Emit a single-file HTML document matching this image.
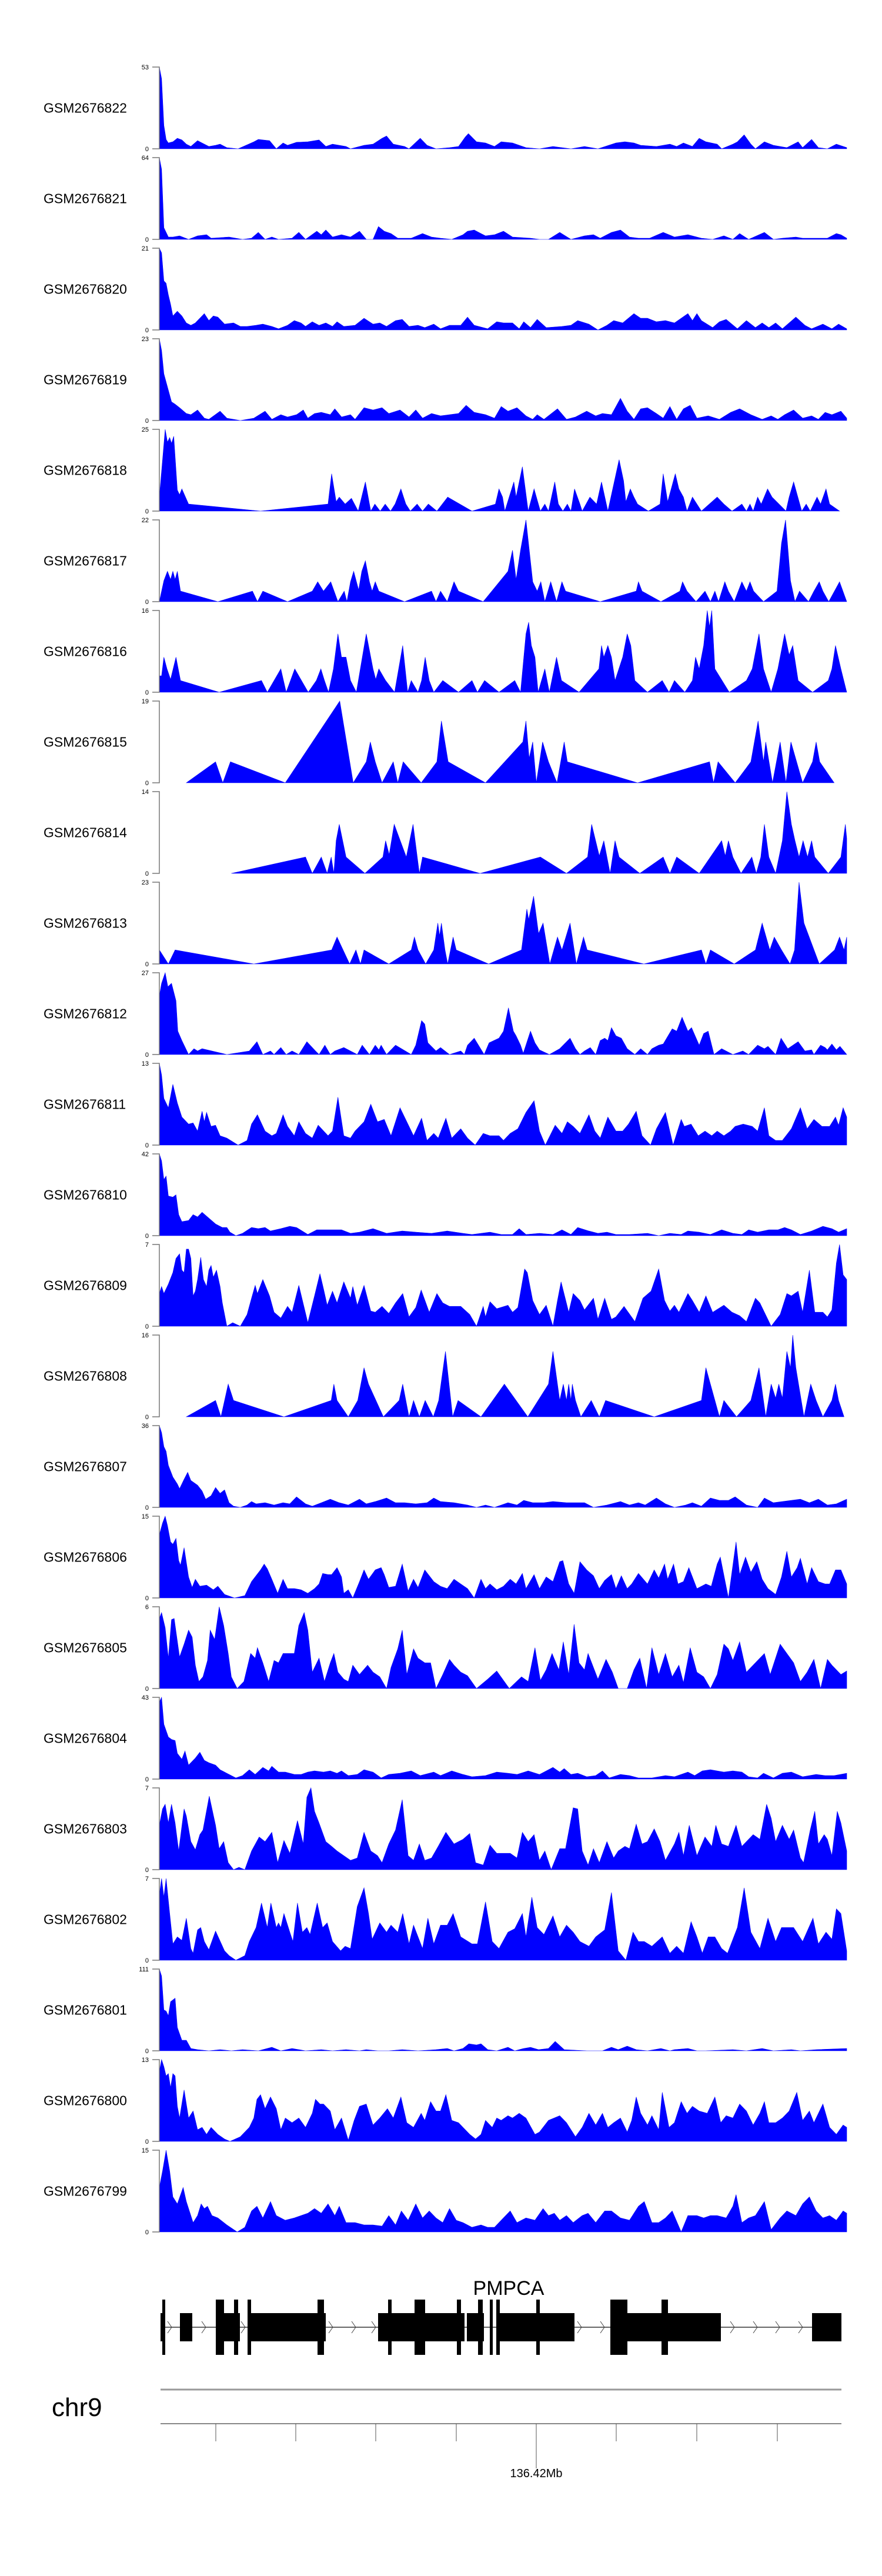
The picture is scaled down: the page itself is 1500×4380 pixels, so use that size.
<!DOCTYPE html>
<html><head><meta charset="utf-8"><style>
html,body{margin:0;padding:0;background:#fff}
svg{display:block}
</style></head><body>
<svg id="fig" width="1500" height="4380" viewBox="0 0 1500 4380" xmlns="http://www.w3.org/2000/svg" font-family="Liberation Sans, Arial, sans-serif">
<g id="tracks"></g>
<g id="gene"></g>
<g id="axis">
<line x1="273" y1="4063" x2="1431" y2="4063" stroke="#999" stroke-width="3"/>
<line x1="273" y1="4121" x2="1431" y2="4121" stroke="#888" stroke-width="2"/>
<text x="88" y="4108" font-size="44">chr9</text>
<text x="912" y="4212" font-size="20" text-anchor="middle">136.42Mb</text>
</g>
</svg>
<script>
const NS='http://www.w3.org/2000/svg';
const trackNames=['GSM2676822','GSM2676821','GSM2676820','GSM2676819','GSM2676818','GSM2676817','GSM2676816','GSM2676815','GSM2676814','GSM2676813','GSM2676812','GSM2676811','GSM2676810','GSM2676809','GSM2676808','GSM2676807','GSM2676806','GSM2676805','GSM2676804','GSM2676803','GSM2676802','GSM2676801','GSM2676800','GSM2676799'];
const trackMax=[53,64,21,23,25,22,16,19,14,23,27,13,42,7,16,36,15,6,43,7,7,111,13,15];
const posDomain=[15,1543];
const valDomain=[0,350];
const axisTicks=[367,503,639,776,912,1048,1185,1322];
const t0=[15,350,20,300,25,100,30,40,35,25,45,30,55,45,65,38,75,20,85,10,100,35,110,25,125,10,140,15,150,20,165,5,190,0,225,30,235,40,260,35,275,0,290,25,300,15,320,28,345,30,370,38,385,10,400,20,430,10,440,0,470,15,490,20,510,45,520,55,535,20,560,10,570,0,595,45,610,15,630,0,660,5,680,10,695,50,702,65,720,30,740,25,760,10,775,30,800,25,830,5,860,0,890,10,930,0,960,10,990,0,1030,25,1050,30,1070,25,1085,15,1120,10,1150,20,1165,10,1180,25,1200,10,1215,45,1230,30,1255,20,1265,0,1290,20,1300,30,1315,60,1330,20,1340,0,1360,30,1380,15,1410,5,1435,30,1445,5,1465,40,1480,5,1500,0,1520,20,1543,5];
const t1=[15,350,20,300,25,50,35,10,45,10,60,15,80,0,100,15,120,20,130,5,170,10,200,0,220,5,235,30,250,0,265,10,280,0,310,5,325,30,340,0,365,35,375,20,385,40,400,10,420,20,440,10,460,35,475,0,490,0,502,55,515,35,530,25,545,5,575,5,600,25,620,10,640,5,665,0,690,20,700,35,715,40,730,25,740,15,760,20,780,35,800,10,840,5,860,0,880,0,905,30,930,0,960,15,980,20,995,5,1020,30,1040,40,1060,10,1080,5,1105,5,1135,30,1160,10,1190,20,1220,5,1245,0,1270,15,1290,0,1305,25,1325,0,1360,30,1380,0,1400,5,1430,10,1445,5,1480,5,1500,5,1520,25,1530,20,1543,5];
const t2=[15,350,20,330,25,210,30,200,35,150,40,110,45,60,55,80,65,60,75,30,85,20,95,30,115,70,125,40,135,60,145,55,160,25,180,30,195,15,210,15,230,20,245,25,265,15,280,5,300,20,315,40,330,30,340,15,355,35,370,20,385,30,400,15,410,35,425,15,450,20,470,50,490,25,505,30,520,15,540,40,555,45,570,15,590,20,605,10,625,25,640,5,660,20,685,20,700,55,715,20,745,5,765,35,780,30,800,30,815,5,825,35,840,10,855,45,875,10,910,15,930,20,945,40,970,25,990,0,1010,20,1025,40,1045,30,1070,70,1085,50,1100,50,1120,35,1140,40,1160,30,1190,70,1200,40,1210,70,1220,40,1245,10,1260,35,1275,45,1300,5,1320,40,1340,10,1355,30,1370,10,1385,30,1400,5,1430,55,1450,20,1465,5,1490,25,1510,5,1525,25,1543,5];
const t3=[15,350,20,300,25,200,35,130,42,80,50,70,60,55,75,30,85,25,100,45,115,10,125,5,150,40,165,10,195,0,225,10,250,40,265,5,285,25,300,15,320,25,335,45,345,10,360,30,375,35,395,25,405,50,420,15,440,25,450,5,470,55,490,45,510,55,525,30,550,45,570,15,585,45,600,10,620,30,640,20,660,25,680,30,697,65,715,35,740,25,760,10,775,60,790,40,810,55,830,20,845,5,855,25,870,5,900,50,920,5,940,15,965,40,985,20,1000,30,1020,25,1040,95,1055,40,1070,5,1085,50,1100,55,1120,30,1135,10,1150,60,1165,5,1180,50,1195,65,1210,10,1235,20,1260,5,1285,35,1305,50,1330,25,1355,5,1375,20,1390,5,1405,25,1425,45,1445,10,1465,20,1480,5,1495,35,1510,25,1530,40,1543,10];
const t4=[15,60,20,170,28,350,33,295,38,315,42,290,47,320,55,90,60,70,65,95,80,30,240,0,390,30,398,160,408,40,415,60,428,30,442,55,457,0,473,125,485,0,494,30,506,0,517,30,529,0,539,30,552,95,563,30,573,0,588,30,600,0,613,30,632,0,656,60,710,0,762,30,770,95,778,60,783,0,803,125,808,60,822,190,835,0,848,95,862,0,872,30,880,0,894,125,902,30,912,0,922,30,930,0,938,95,950,30,955,0,972,60,987,30,998,125,1012,0,1037,220,1047,130,1052,40,1062,95,1070,60,1078,30,1102,0,1128,30,1135,160,1145,40,1162,160,1170,95,1180,60,1188,0,1200,60,1220,0,1255,60,1270,30,1288,0,1310,30,1320,0,1328,30,1335,0,1345,60,1353,30,1367,95,1377,60,1408,0,1415,60,1425,125,1443,0,1453,30,1462,0,1477,60,1485,30,1497,95,1505,30,1527,0];
const t5=[15,0,25,90,33,130,40,95,45,130,50,95,55,130,62,45,145,0,222,45,233,0,245,45,300,0,355,45,367,85,380,45,396,85,412,0,426,45,432,0,440,85,447,130,458,50,465,130,473,175,482,85,488,45,495,85,503,45,560,0,620,45,630,0,640,45,655,0,670,85,680,45,735,0,790,130,800,220,808,95,818,220,830,350,845,85,855,45,863,85,872,0,885,85,898,0,910,85,918,45,995,0,1075,45,1080,85,1088,45,1130,0,1172,45,1178,85,1188,45,1208,0,1228,45,1240,0,1250,45,1258,0,1272,85,1280,45,1293,0,1310,85,1320,45,1328,85,1336,45,1358,0,1388,45,1398,250,1407,350,1418,90,1428,0,1438,45,1458,0,1470,45,1482,85,1490,45,1503,0,1527,85,1543,0];
const t6=[15,70,20,70,25,150,32,100,40,55,52,150,62,50,148,0,242,50,255,0,285,100,297,0,316,100,346,0,364,50,374,100,382,50,391,0,402,100,412,250,420,150,430,150,440,50,453,0,475,250,490,100,496,55,503,100,518,50,538,0,556,200,567,0,575,50,590,0,598,50,606,150,615,50,625,0,645,50,680,0,710,50,722,0,738,50,770,0,805,50,818,0,830,250,836,300,842,200,850,150,857,0,872,100,882,0,898,150,909,50,948,0,992,100,998,200,1003,150,1012,200,1020,150,1028,50,1045,150,1055,250,1063,200,1072,50,1100,0,1133,50,1148,0,1160,50,1183,0,1200,50,1207,150,1215,100,1225,200,1233,350,1238,280,1243,350,1250,100,1282,0,1320,50,1333,100,1348,250,1358,100,1375,0,1390,100,1405,250,1415,160,1423,200,1435,50,1467,0,1502,50,1510,100,1518,200,1530,100,1543,0];
const t7=[75,0,140,90,156,0,173,90,295,0,416,350,446,0,475,90,484,175,495,90,510,0,535,90,545,0,557,90,597,0,632,90,642,265,657,90,740,0,823,175,830,265,837,105,845,175,853,0,867,175,880,90,899,0,915,175,922,90,1078,0,1238,90,1247,0,1257,90,1295,0,1330,90,1346,265,1358,90,1363,175,1378,0,1395,175,1408,0,1419,175,1445,0,1467,90,1475,175,1483,90,1515,0];
const t8=[175,0,340,70,355,0,375,70,388,0,397,70,403,0,408,140,415,210,430,70,472,0,512,70,518,140,526,80,537,210,564,70,579,210,593,0,600,70,728,0,862,70,920,0,967,70,976,210,993,75,1003,140,1017,0,1028,140,1037,70,1083,0,1135,70,1150,0,1165,70,1215,0,1265,140,1273,75,1280,140,1290,70,1308,0,1332,70,1342,0,1352,70,1360,210,1370,70,1385,0,1400,140,1410,350,1420,210,1428,140,1437,70,1446,140,1456,70,1465,140,1472,70,1502,0,1530,70,1540,210,1543,150];
const t9=[15,60,35,0,50,60,225,0,398,60,410,115,438,0,452,60,462,0,470,60,525,0,575,60,582,115,590,60,607,0,625,60,634,175,638,120,642,175,650,60,656,0,668,115,675,60,747,0,820,60,832,235,836,190,847,290,858,130,868,175,883,0,900,115,910,60,928,175,942,0,958,115,966,60,1092,0,1220,60,1230,0,1240,60,1293,0,1340,60,1355,175,1372,60,1382,115,1398,60,1417,0,1427,60,1437,350,1448,175,1482,0,1516,60,1527,115,1537,60,1543,115];
const t10=[15,250,20,305,28,350,34,290,42,305,52,230,56,100,65,60,80,0,92,25,100,15,110,25,165,0,215,15,232,55,245,0,262,15,270,0,285,30,297,0,310,15,325,0,343,55,362,15,370,0,383,40,395,0,405,15,425,30,455,0,466,40,482,0,495,40,503,20,508,40,520,0,540,40,575,0,585,40,598,145,605,130,612,50,630,15,640,30,660,0,685,15,693,0,700,40,715,70,737,0,748,50,770,70,780,100,791,200,802,100,808,80,818,40,824,5,840,100,850,50,860,20,882,0,905,25,928,70,940,25,950,0,960,15,973,30,985,0,995,60,1005,70,1012,60,1020,115,1030,80,1042,70,1055,25,1072,0,1085,25,1100,0,1110,25,1125,40,1135,45,1155,110,1165,100,1177,160,1190,100,1198,115,1215,40,1225,90,1235,100,1248,0,1265,25,1290,0,1312,15,1325,0,1345,40,1360,25,1368,35,1385,0,1397,70,1412,25,1435,55,1450,15,1465,20,1470,0,1485,40,1495,30,1500,20,1510,45,1520,20,1528,35,1543,0];
const t11=[15,350,20,300,25,200,35,160,45,260,55,180,65,120,80,90,90,95,100,60,110,145,115,100,120,140,130,80,140,85,150,40,165,30,190,0,210,20,220,90,233,130,250,60,265,40,275,50,290,130,300,80,315,40,325,100,340,50,355,30,368,85,390,40,400,60,412,205,425,40,440,30,450,60,470,100,485,175,500,100,515,110,530,40,550,160,565,100,580,40,598,115,610,20,625,50,635,30,652,115,665,30,685,70,700,30,717,0,735,50,750,40,770,40,780,20,795,50,812,70,830,140,848,190,860,60,873,0,895,85,910,50,922,100,935,80,950,50,970,130,983,60,995,30,1012,120,1030,60,1045,60,1058,90,1075,145,1088,40,1107,0,1120,70,1140,140,1157,0,1175,110,1182,80,1197,90,1213,40,1228,60,1243,40,1255,60,1270,40,1285,60,1295,80,1313,90,1333,80,1345,60,1360,160,1370,40,1385,20,1400,20,1420,70,1440,160,1455,70,1470,110,1488,80,1505,80,1518,120,1525,85,1535,160,1543,120];
const t12=[15,350,20,320,25,240,30,255,35,170,45,165,52,175,58,90,65,60,80,65,90,90,100,80,110,100,125,75,140,50,155,35,165,35,172,15,185,0,200,10,220,35,235,30,250,35,262,20,285,30,305,40,320,35,345,5,365,25,390,25,420,25,440,10,460,15,490,30,520,10,555,20,585,15,620,10,655,20,690,10,710,5,750,15,775,5,800,5,815,30,830,5,860,10,890,5,910,25,930,5,945,35,970,20,990,10,1010,15,1030,5,1060,5,1100,10,1125,0,1150,10,1175,5,1190,20,1215,15,1240,5,1265,25,1290,10,1310,5,1325,25,1345,15,1370,25,1390,25,1405,35,1420,25,1440,5,1465,20,1490,40,1510,30,1525,15,1543,30];
const t13=[15,140,20,170,25,140,35,180,45,230,52,290,60,310,65,240,70,230,75,330,80,330,85,290,90,130,95,150,100,200,107,295,113,200,120,170,125,240,130,260,135,210,142,240,150,170,155,100,165,0,178,15,195,0,210,50,220,120,228,175,233,140,245,200,260,130,270,60,285,35,300,85,310,60,325,175,345,15,360,130,372,225,380,160,388,90,400,150,410,100,425,190,440,120,445,170,455,90,470,175,485,65,495,60,510,85,525,55,540,100,556,140,570,40,585,80,597,155,615,60,632,140,645,100,660,85,685,85,705,50,720,0,735,85,740,40,750,105,765,75,790,90,800,60,812,80,827,245,833,230,845,110,860,50,875,90,890,0,900,110,908,190,925,60,935,140,950,110,960,70,980,120,990,30,1005,120,1020,30,1030,40,1048,85,1072,20,1090,120,1108,150,1125,245,1138,110,1150,65,1160,90,1170,60,1190,140,1200,110,1215,60,1230,130,1245,60,1270,90,1288,60,1305,45,1320,20,1340,120,1350,100,1360,60,1375,0,1395,50,1410,140,1420,130,1435,150,1445,60,1460,240,1472,60,1490,60,1500,40,1510,70,1520,270,1527,350,1535,220,1543,200];
const t14=[75,0,140,70,152,0,168,140,180,70,292,0,397,70,403,140,410,70,435,0,456,70,470,210,480,140,513,0,548,70,556,140,570,0,580,70,593,0,606,70,624,0,636,70,651,280,667,0,679,70,730,0,782,140,834,0,880,140,890,280,905,70,913,140,920,70,925,140,930,70,933,140,940,70,952,0,975,70,993,0,1007,70,1115,0,1220,70,1230,210,1240,140,1260,0,1270,70,1298,0,1330,70,1348,210,1363,0,1375,140,1385,80,1392,140,1400,80,1410,280,1418,210,1423,350,1430,210,1448,0,1463,140,1475,70,1490,0,1510,70,1518,140,1525,70,1537,0];
const t15=[15,350,20,320,25,260,30,240,35,180,45,130,55,100,60,80,70,120,78,150,85,115,100,95,110,70,118,35,130,50,140,85,150,60,160,75,170,20,180,5,195,0,210,10,220,25,230,15,250,20,270,10,290,20,305,15,320,45,340,15,355,5,375,20,395,35,415,20,435,10,460,35,475,15,495,25,520,40,540,20,560,20,585,15,610,20,625,40,640,25,670,20,700,10,720,0,740,10,760,0,790,20,810,10,825,30,845,20,870,20,890,25,920,20,960,20,980,0,1010,10,1040,25,1060,10,1080,20,1095,10,1120,40,1140,15,1160,0,1185,10,1200,20,1220,5,1240,40,1260,30,1280,30,1295,45,1320,10,1345,0,1360,40,1380,20,1400,25,1420,30,1440,35,1460,20,1480,35,1500,10,1520,15,1543,35];
const t16=[15,270,22,320,28,350,33,310,40,240,45,230,52,255,58,160,62,140,70,215,80,90,88,45,95,80,105,50,120,55,135,35,145,50,160,15,182,0,205,10,220,70,240,120,248,145,255,125,265,80,278,20,290,80,300,40,315,40,330,35,345,20,360,40,370,60,378,105,390,100,398,100,410,130,420,90,425,20,435,35,445,0,460,70,470,120,480,80,495,120,508,130,515,100,525,45,540,50,555,145,568,30,580,80,590,45,605,120,625,70,640,50,655,40,670,80,685,60,700,40,715,0,730,80,740,40,750,60,765,35,780,50,795,80,808,60,822,105,830,40,848,100,860,40,875,90,890,70,905,155,912,160,925,60,937,20,950,155,965,120,980,95,993,40,1005,75,1020,100,1030,40,1042,95,1055,40,1065,60,1080,105,1100,60,1115,120,1125,85,1138,145,1145,80,1158,145,1168,60,1180,70,1192,130,1210,40,1230,60,1242,50,1255,145,1262,175,1280,0,1297,240,1305,100,1318,175,1330,110,1343,155,1355,80,1368,40,1385,15,1398,90,1410,200,1420,90,1433,130,1440,170,1455,60,1465,130,1480,70,1495,60,1505,60,1518,120,1530,120,1543,60];
const t17=[15,300,20,325,28,260,35,130,42,295,48,300,60,135,70,190,80,250,88,220,95,100,103,30,112,50,122,120,128,250,138,210,148,350,158,270,168,150,175,50,188,0,203,30,218,150,228,130,233,175,245,110,258,30,270,120,280,110,290,150,305,150,315,150,325,270,337,325,345,250,355,70,370,130,382,30,395,110,403,150,412,70,425,40,435,30,445,100,460,60,478,100,490,70,505,50,520,0,530,90,545,170,555,250,565,60,580,170,590,130,605,110,618,110,630,0,645,60,660,125,670,100,685,70,700,55,720,0,745,40,765,75,793,0,820,50,835,30,850,175,862,35,875,80,888,150,903,80,913,200,925,60,937,275,948,110,960,80,968,150,990,40,1008,125,1022,70,1035,0,1055,0,1070,80,1083,130,1098,0,1110,175,1125,60,1140,150,1155,50,1170,100,1180,25,1195,175,1210,70,1225,50,1240,0,1255,60,1270,190,1280,170,1290,120,1305,200,1320,70,1345,120,1360,150,1373,60,1395,190,1410,150,1425,110,1440,30,1455,70,1470,125,1485,0,1500,125,1510,100,1530,60,1543,75];
const t18=[15,330,20,350,25,235,35,180,42,170,50,165,55,110,65,85,72,120,80,60,95,90,105,115,115,80,125,70,140,60,150,40,165,25,185,5,200,15,215,40,228,20,245,50,258,35,265,55,280,30,295,30,315,20,330,20,345,30,360,35,380,30,395,35,410,25,420,35,435,15,455,20,470,40,490,30,508,5,525,20,550,25,575,35,595,15,625,30,640,15,665,35,690,20,710,10,740,15,765,30,790,25,810,20,835,35,860,20,890,50,905,30,915,45,930,20,945,25,965,10,985,15,1000,35,1015,5,1040,20,1060,15,1080,5,1110,5,1140,15,1160,10,1190,30,1205,15,1222,35,1240,40,1270,30,1290,35,1310,30,1325,10,1345,5,1358,25,1380,5,1400,25,1420,30,1445,10,1475,20,1495,15,1515,15,1543,25];
const t19=[15,190,22,260,28,280,35,200,42,280,50,200,58,80,70,260,75,230,85,120,95,85,105,150,112,170,126,315,140,190,148,90,158,120,168,30,180,0,192,10,205,0,220,80,237,140,250,120,265,160,278,30,292,125,305,70,322,210,335,110,343,310,352,350,360,250,370,200,385,120,398,100,410,80,425,60,440,40,455,50,470,160,485,80,500,60,510,30,525,110,540,170,555,300,568,60,580,40,593,110,605,40,620,50,635,100,652,160,670,110,690,130,705,155,718,30,735,20,750,105,765,70,780,70,795,70,810,50,822,160,835,120,848,150,860,40,872,80,886,0,905,90,918,90,935,265,945,260,955,80,968,20,980,90,993,30,1010,120,1025,50,1035,80,1050,100,1060,90,1075,195,1088,110,1100,120,1115,175,1128,120,1140,40,1160,110,1170,160,1180,60,1193,190,1210,60,1228,140,1243,100,1252,190,1265,110,1280,100,1297,190,1310,100,1335,150,1350,130,1365,280,1375,220,1385,120,1400,190,1415,130,1425,170,1440,50,1447,30,1462,170,1472,250,1480,110,1493,150,1500,130,1510,60,1522,250,1530,200,1543,80];
const t20=[15,280,20,350,25,270,30,350,38,200,45,70,55,100,65,85,75,180,85,50,90,30,100,130,107,140,115,80,125,45,140,125,160,40,170,20,185,0,205,20,215,80,230,140,242,245,255,140,263,245,275,140,280,160,285,140,292,200,305,120,312,80,322,245,333,120,343,140,350,110,366,245,378,140,388,160,400,80,418,40,428,60,440,50,455,230,470,310,480,200,488,90,505,160,520,120,530,150,545,120,556,200,570,70,580,150,600,50,612,180,625,70,640,150,655,150,668,200,685,100,710,70,722,70,740,250,755,80,770,50,790,120,805,135,822,200,830,100,843,270,855,140,870,110,890,190,905,100,920,150,935,120,950,80,970,60,985,100,1005,130,1020,290,1035,40,1052,0,1068,120,1080,80,1093,80,1110,60,1133,100,1150,30,1165,60,1180,30,1197,165,1210,100,1222,30,1235,100,1250,100,1265,50,1278,30,1300,140,1315,310,1330,120,1350,50,1368,180,1385,80,1398,140,1410,140,1425,140,1445,80,1468,180,1480,70,1497,120,1510,90,1520,220,1530,200,1543,40];
const t21=[15,350,20,320,25,175,30,170,35,150,40,210,50,225,55,100,65,45,75,45,85,10,100,5,125,0,150,5,175,0,200,5,235,0,265,15,285,0,310,10,340,0,375,5,400,0,430,5,460,0,475,5,500,0,525,0,555,5,590,0,630,5,655,10,670,0,690,10,703,30,720,25,730,30,745,5,765,0,790,15,805,0,825,10,840,15,858,5,880,10,895,40,915,5,965,0,1000,0,1020,15,1035,5,1055,20,1075,5,1100,0,1130,10,1150,0,1160,5,1190,10,1210,0,1230,0,1290,5,1320,0,1355,10,1380,0,1420,5,1440,0,1475,5,1543,10];
const t22=[15,300,20,350,25,320,30,280,35,290,40,230,45,290,50,280,55,150,60,100,70,220,80,100,90,130,100,50,110,60,120,30,130,60,145,30,160,10,172,0,195,20,215,60,225,100,232,180,240,200,250,140,262,190,275,140,285,50,295,100,310,80,325,100,340,60,355,120,362,180,372,160,380,160,395,130,405,50,420,100,435,5,448,90,460,150,475,160,490,70,505,100,522,140,535,100,552,190,565,80,580,60,597,120,605,90,618,170,630,130,640,130,652,200,665,90,680,80,690,60,705,30,718,10,730,30,740,90,755,60,765,100,775,90,790,110,800,100,815,120,830,100,850,30,860,40,880,90,905,110,920,80,940,20,955,60,970,120,985,70,1000,120,1012,60,1025,80,1040,100,1055,40,1065,90,1075,190,1085,120,1100,70,1110,110,1125,50,1133,210,1148,60,1160,80,1175,170,1188,120,1200,150,1215,130,1233,120,1250,190,1263,80,1275,110,1290,100,1305,160,1320,130,1335,70,1350,120,1360,170,1370,80,1385,80,1400,100,1415,130,1432,210,1445,90,1460,130,1470,80,1490,160,1505,60,1520,30,1535,70,1543,60];
const t23=[15,190,22,260,30,350,38,260,45,150,55,120,68,190,75,130,90,40,100,70,108,120,115,100,122,110,132,70,145,60,165,30,188,0,205,20,220,90,232,110,245,60,262,130,275,70,295,50,315,60,330,70,345,80,360,100,375,80,390,120,405,70,415,110,430,40,450,40,470,30,490,30,510,25,525,70,540,30,553,90,568,50,585,120,600,60,615,90,630,60,645,40,660,100,675,50,690,40,710,20,730,30,745,20,760,20,775,50,795,90,810,40,830,60,850,50,868,100,880,70,893,80,905,50,920,70,935,40,955,70,968,80,985,40,1005,90,1020,90,1040,60,1060,50,1080,110,1093,130,1110,40,1125,40,1140,60,1155,90,1175,0,1190,70,1210,70,1225,60,1240,70,1255,70,1275,60,1290,110,1297,160,1310,40,1325,60,1340,70,1360,130,1375,10,1395,60,1410,90,1430,70,1445,120,1460,150,1475,90,1490,60,1505,70,1520,50,1535,90,1543,80];
const trackData=[t0,t1,t2,t3,t4,t5,t6,t7,t8,t9,t10,t11,t12,t13,t14,t15,t16,t17,t18,t19,t20,t21,t22,t23];
const exonStarts=[273,306,367,421,643,794,848,1038,1381];
const exonEnds=[281,327,408,554,790,823,977,1226,1431];
const tallStarts=[276,367,398,421,540,660,705,777,813,833,844,912,1038,1125];
const tallEnds=[281,381,405,427,551,666,723,784,821,838,850,918,1067,1136];
const chevrons=[288,346,413,562,601,635,985,1024,1245,1284,1322,1361];

const X0=271,X1=1440,TOP0=114,PERIOD=154,PH=139;
function xScale(p){return X0+(p-posDomain[0])/(posDomain[1]-posDomain[0])*(X1-X0);}
function yScale(v,base){return base-(v-valDomain[0])/(valDomain[1]-valDomain[0])*PH;}
function mk(tag,attrs,parent){const e=document.createElementNS(NS,tag);for(const k in attrs)e.setAttribute(k,attrs[k]);parent.appendChild(e);return e;}

const tg=document.getElementById('tracks');
trackNames.forEach((name,i)=>{
  const top=TOP0+PERIOD*i, base=top+PH;
  const g=mk('g',{},tg);
  
  
  const lab=mk('text',{x:74,y:top+PH/2+8,'font-size':23,fill:'#000'},g);
  lab.textContent=name;
  
  
  const d=trackData[i];
  let pts=xScale(d[0]).toFixed(1)+','+base+' ';
  for(let k=0;k<d.length;k+=2){pts+=xScale(d[k]).toFixed(1)+','+yScale(d[k+1],base).toFixed(1)+' ';}
  pts+=xScale(d[d.length-2]).toFixed(1)+','+base;
  const poly=mk('polygon',{points:pts,fill:'#0000ff',stroke:'#0000ff','stroke-width':0.6},g);
  
  
  const ax=mk('path',{d:`M259,${top}H${X0}V${base}H259`,fill:'none',stroke:'#777','stroke-width':1.5},g);
  
  
  const tmax=mk('text',{x:253,y:top+4,'font-size':11,'text-anchor':'end',fill:'#000'},g);
  tmax.textContent=trackMax[i];
  
  
  const tmin=mk('text',{x:253,y:base+4,'font-size':11,'text-anchor':'end',fill:'#000'},g);
  tmin.textContent='0';
  
  
});

const gg=document.getElementById('gene');
const intron=mk('line',{x1:273,y1:3957,x2:1431,y2:3957,stroke:'#333','stroke-width':1.5},gg);


chevrons.forEach(c=>{
  const ch=mk('path',{d:`M${c-3},${3947}L${c+4},${3957}L${c-3},${3967}`,fill:'none',stroke:'#444','stroke-width':1},gg);
  
  
});
exonStarts.forEach((s,i)=>{
  const r=mk('rect',{x:s,y:3933,width:exonEnds[i]-s,height:48,fill:'#000'},gg);
  
  
});
tallStarts.forEach((s,i)=>{
  const r=mk('rect',{x:s,y:3910,width:tallEnds[i]-s,height:94,fill:'#000'},gg);
  
  
});
const gl=mk('text',{x:865,y:3902,'font-size':34,'text-anchor':'middle',fill:'#000'},gg);
gl.textContent='PMPCA';



const ag=document.getElementById('axis');
axisTicks.forEach((t,i)=>{
  const l=mk('line',{x1:t,y1:4121,x2:t,y2:(t===912?4197:4151),stroke:'#555','stroke-width':1},ag);
  
  
});
</script>
</body></html>
